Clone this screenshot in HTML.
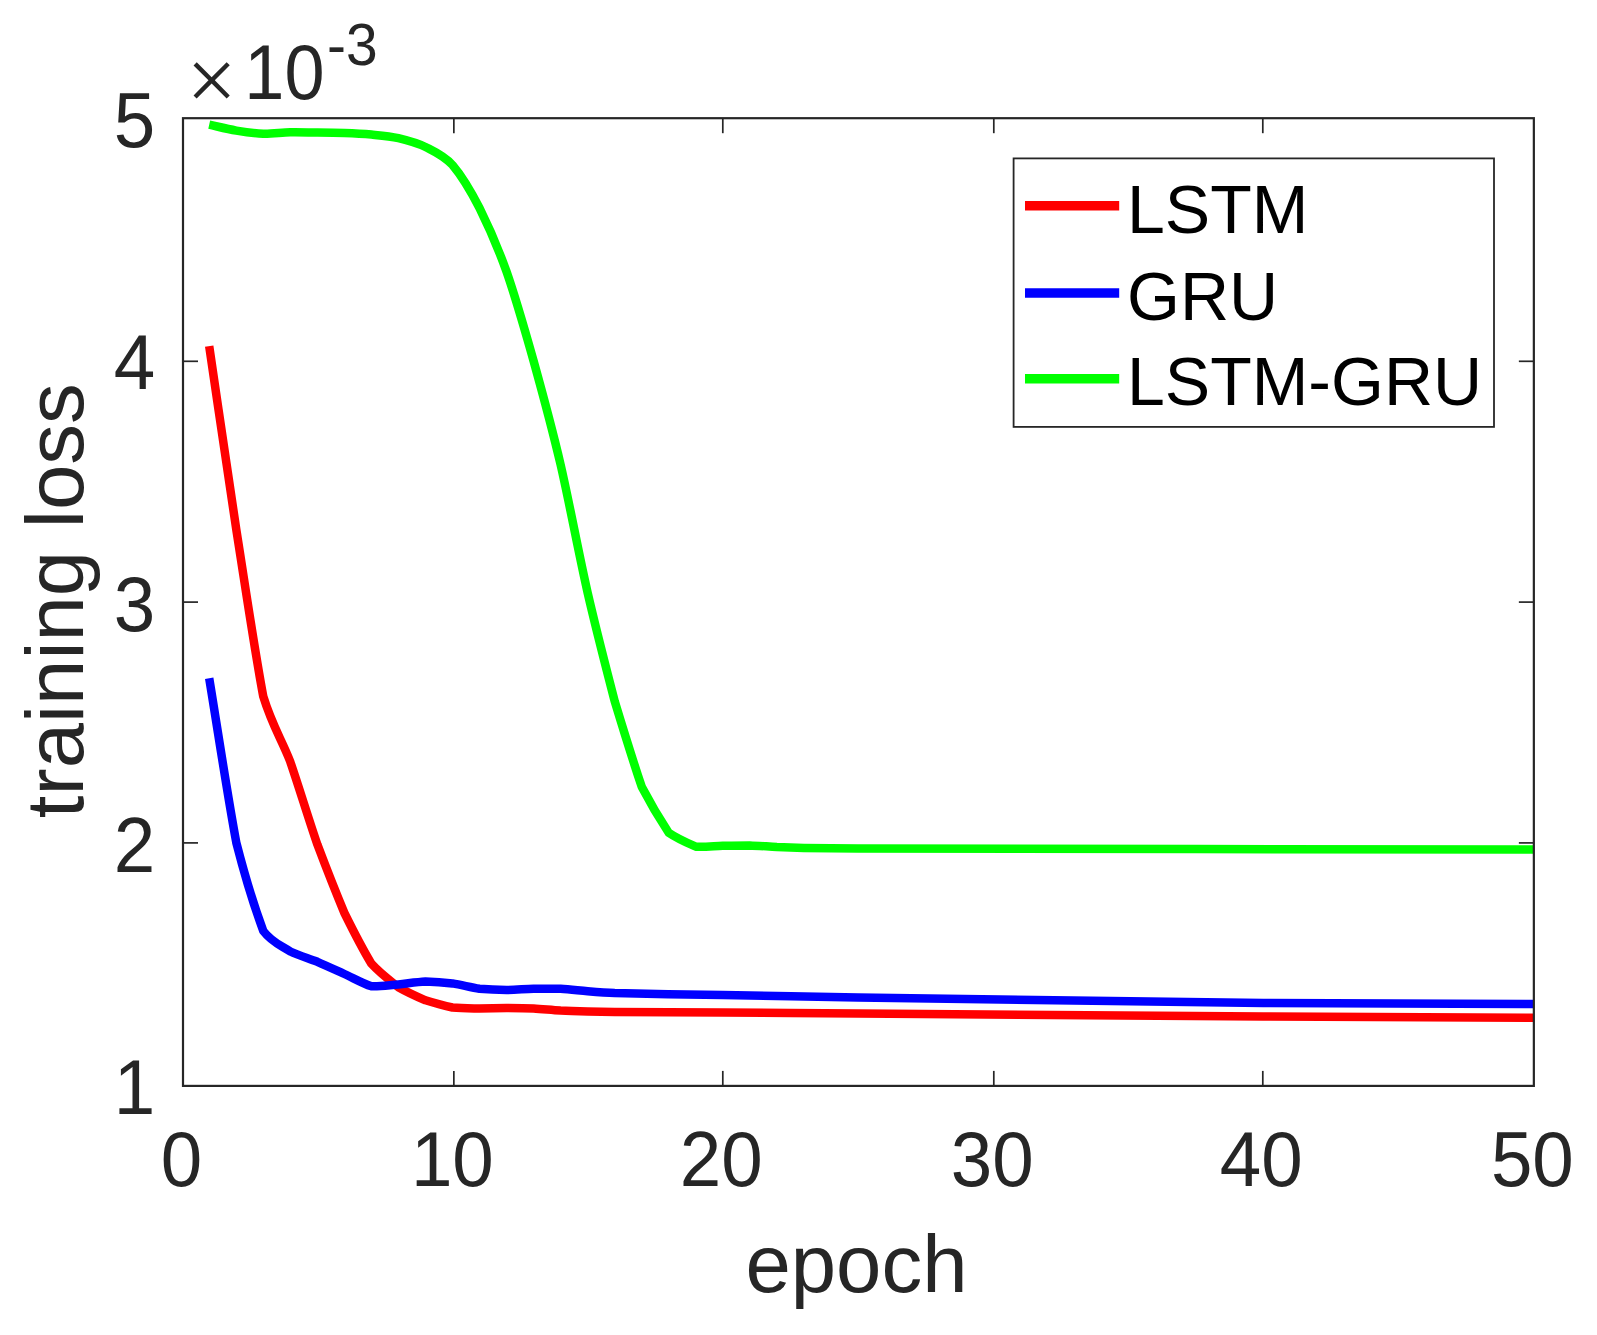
<!DOCTYPE html>
<html lang="en">
<head>
<meta charset="utf-8">
<title>training loss</title>
<style>
html,body{margin:0;padding:0;background:#fff;overflow:hidden;}
svg{display:block;}
text{font-family:"Liberation Sans",sans-serif;}
.t{font-size:77.5px;fill:#262626;}
.l{font-size:81.5px;fill:#262626;}
.g{font-size:68px;fill:#000;}
</style>
</head>
<body>
<svg width="1597" height="1335" viewBox="0 0 1597 1335">
<rect x="0" y="0" width="1597" height="1335" fill="#ffffff"/>
<defs><clipPath id="cp"><rect x="183.0" y="118.2" width="1350.85" height="967.7"/></clipPath></defs>

<g clip-path="url(#cp)" fill="none" stroke-width="8.5" stroke-linejoin="round" stroke-linecap="butt">
<path stroke="#ff0000" d="M209.2,346.2C218.2,407.3 227.2,469.7 236.3,529.6C245.3,586.5 254.3,648.6 263.3,696.6C272.3,726.0 281.3,738.7 290.3,761.8C299.3,788.1 308.3,818.1 317.4,844.6C326.4,868.5 335.4,891.5 344.4,913.0C353.4,931.2 362.4,948.8 371.4,963.7C380.4,973.6 389.4,980.1 398.4,987.2C407.4,992.3 416.5,996.4 425.5,1000.3C434.5,1003.1 443.5,1005.6 452.5,1007.5C461.5,1008.3 470.5,1008.3 479.5,1008.5C488.5,1008.4 497.6,1008.1 506.6,1008.0C515.6,1008.1 524.6,1008.2 533.6,1008.5C542.6,1009.1 551.6,1010.0 560.6,1010.6C569.6,1011.0 578.6,1011.2 587.7,1011.4C596.7,1011.6 605.7,1011.8 614.7,1011.9C650.7,1012.2 686.8,1012.4 722.8,1012.6C767.9,1012.9 812.9,1013.2 858.0,1013.5C993.1,1014.5 1128.2,1015.6 1263.4,1016.5C1353.5,1017.0 1443.6,1017.4 1533.7,1017.8"/>
<path stroke="#0000ff" d="M209.2,678.2C218.2,733.0 227.2,793.5 236.3,842.6C245.3,877.8 254.3,906.6 263.3,931.0C272.3,942.9 281.3,945.4 290.3,951.5C299.3,955.7 308.3,958.2 317.4,961.8C326.4,965.7 335.4,969.9 344.4,974.0C353.4,978.1 362.4,983.3 371.4,986.3C380.4,986.7 389.4,985.1 398.4,984.4C407.4,983.5 416.5,982.2 425.5,981.6C434.5,981.9 443.5,982.5 452.5,983.4C461.5,984.9 470.5,987.2 479.5,988.7C488.5,989.4 497.6,989.8 506.6,990.0C515.6,989.8 524.6,989.1 533.6,988.8C542.6,988.7 551.6,988.6 560.6,988.8C569.6,989.4 578.6,990.5 587.7,991.3C596.7,992.0 605.7,992.7 614.7,993.1C650.7,993.9 686.8,994.4 722.8,995.1C767.9,995.9 812.9,996.8 858.0,997.5C993.1,999.4 1128.2,1001.4 1263.4,1003.0C1353.5,1003.6 1443.6,1003.7 1533.7,1004.0"/>
<path stroke="#00ff00" d="M209.2,124.7C218.2,126.7 227.2,129.0 236.3,130.6C245.3,132.1 254.3,133.4 263.3,133.8C272.3,134.0 281.3,132.5 290.3,132.3C299.3,132.1 308.3,132.5 317.4,132.6C326.4,132.7 335.4,132.8 344.4,133.1C353.4,133.4 362.4,133.8 371.4,134.6C380.4,135.5 389.4,136.2 398.4,138.2C407.4,140.4 416.5,142.7 425.5,147.0C434.5,151.6 443.5,155.2 452.5,165.0C461.5,175.6 470.5,190.5 479.5,208.0C488.5,226.1 497.6,246.7 506.6,271.8C515.6,297.7 524.6,329.1 533.6,361.0C542.6,393.4 551.6,426.3 560.6,464.6C569.6,503.7 578.6,553.2 587.7,593.0C596.7,632.1 605.7,666.3 614.7,701.3C623.7,730.9 632.7,760.2 641.7,786.7C650.7,804.0 659.7,819.0 668.7,832.8C677.8,839.0 686.8,842.8 695.8,846.7C704.8,847.1 713.8,846.1 722.8,845.8C731.8,845.6 740.8,845.4 749.8,845.4C758.8,845.8 767.9,846.5 776.9,847.0C785.9,847.3 794.9,847.6 803.9,847.9C812.9,848.1 821.9,848.2 830.9,848.3C839.9,848.4 848.9,848.4 858.0,848.5C1083.2,848.9 1308.5,849.2 1533.7,849.6"/>
</g>
<g stroke="#262626" stroke-width="1.7" fill="none">
<line x1="453.85" y1="1085.9" x2="453.85" y2="1070.9"/>
<line x1="453.85" y1="118.2" x2="453.85" y2="133.2"/>
<line x1="722.8" y1="1085.9" x2="722.8" y2="1070.9"/>
<line x1="722.8" y1="118.2" x2="722.8" y2="133.2"/>
<line x1="993.8" y1="1085.9" x2="993.8" y2="1070.9"/>
<line x1="993.8" y1="118.2" x2="993.8" y2="133.2"/>
<line x1="1262.8" y1="1085.9" x2="1262.8" y2="1070.9"/>
<line x1="1262.8" y1="118.2" x2="1262.8" y2="133.2"/>
<line x1="183.0" y1="361.3" x2="198.0" y2="361.3"/>
<line x1="1533.85" y1="361.3" x2="1518.85" y2="361.3"/>
<line x1="183.0" y1="602.1" x2="198.0" y2="602.1"/>
<line x1="1533.85" y1="602.1" x2="1518.85" y2="602.1"/>
<line x1="183.0" y1="842.9" x2="198.0" y2="842.9"/>
<line x1="1533.85" y1="842.9" x2="1518.85" y2="842.9"/>
</g>
<rect x="183.0" y="118.2" width="1350.85" height="967.7" fill="none" stroke="#262626" stroke-width="2.2"/>
<text class="t" transform="translate(181.5,1186) scale(0.962,1)" text-anchor="middle">0</text>
<text class="t" transform="translate(452.35,1186) scale(0.962,1)" text-anchor="middle">10</text>
<text class="t" transform="translate(721.3,1186) scale(0.962,1)" text-anchor="middle">20</text>
<text class="t" transform="translate(992.3,1186) scale(0.962,1)" text-anchor="middle">30</text>
<text class="t" transform="translate(1261.3,1186) scale(0.962,1)" text-anchor="middle">40</text>
<text class="t" transform="translate(1532.35,1186) scale(0.962,1)" text-anchor="middle">50</text>
<text class="t" transform="translate(155.2,146.6) scale(0.962,1)" text-anchor="end">5</text>
<text class="t" transform="translate(155.2,389.2) scale(0.962,1)" text-anchor="end">4</text>
<text class="t" transform="translate(155.2,630.5) scale(0.962,1)" text-anchor="end">3</text>
<text class="t" transform="translate(155.2,872.2) scale(0.962,1)" text-anchor="end">2</text>
<text class="t" transform="translate(155.2,1114.3) scale(0.962,1)" text-anchor="end">1</text>
<text x="186.4" y="109.7" font-size="89" fill="#262626" style="font-family:'Liberation Serif',serif">×</text>
<text class="t" transform="translate(244.3,99) scale(0.93,1)" style="font-size:77.5px">10</text>
<text class="t" transform="translate(327,65) scale(0.95,1)" style="font-size:60px">-3</text>
<text class="l" x="856.5" y="1291.8" text-anchor="middle">epoch</text>
<text class="l" transform="translate(82.5,600.7) rotate(-90)" text-anchor="middle">training loss</text>
<rect x="1013.6" y="158.4" width="480.4" height="268.5" fill="#fff" stroke="#262626" stroke-width="1.8"/>
<g stroke-width="9.5" fill="none">
<line x1="1025" y1="205.8" x2="1119.2" y2="205.8" stroke="#ff0000"/>
<line x1="1025" y1="292.9" x2="1119.2" y2="292.9" stroke="#0000ff"/>
<line x1="1025" y1="378.7" x2="1119.2" y2="378.7" stroke="#00ff00"/>
</g>
<text class="g" x="1127" y="232.6">LSTM</text>
<text class="g" x="1127" y="319.5">GRU</text>
<text class="g" x="1127" y="405">LSTM-GRU</text>
</svg>
</body>
</html>
